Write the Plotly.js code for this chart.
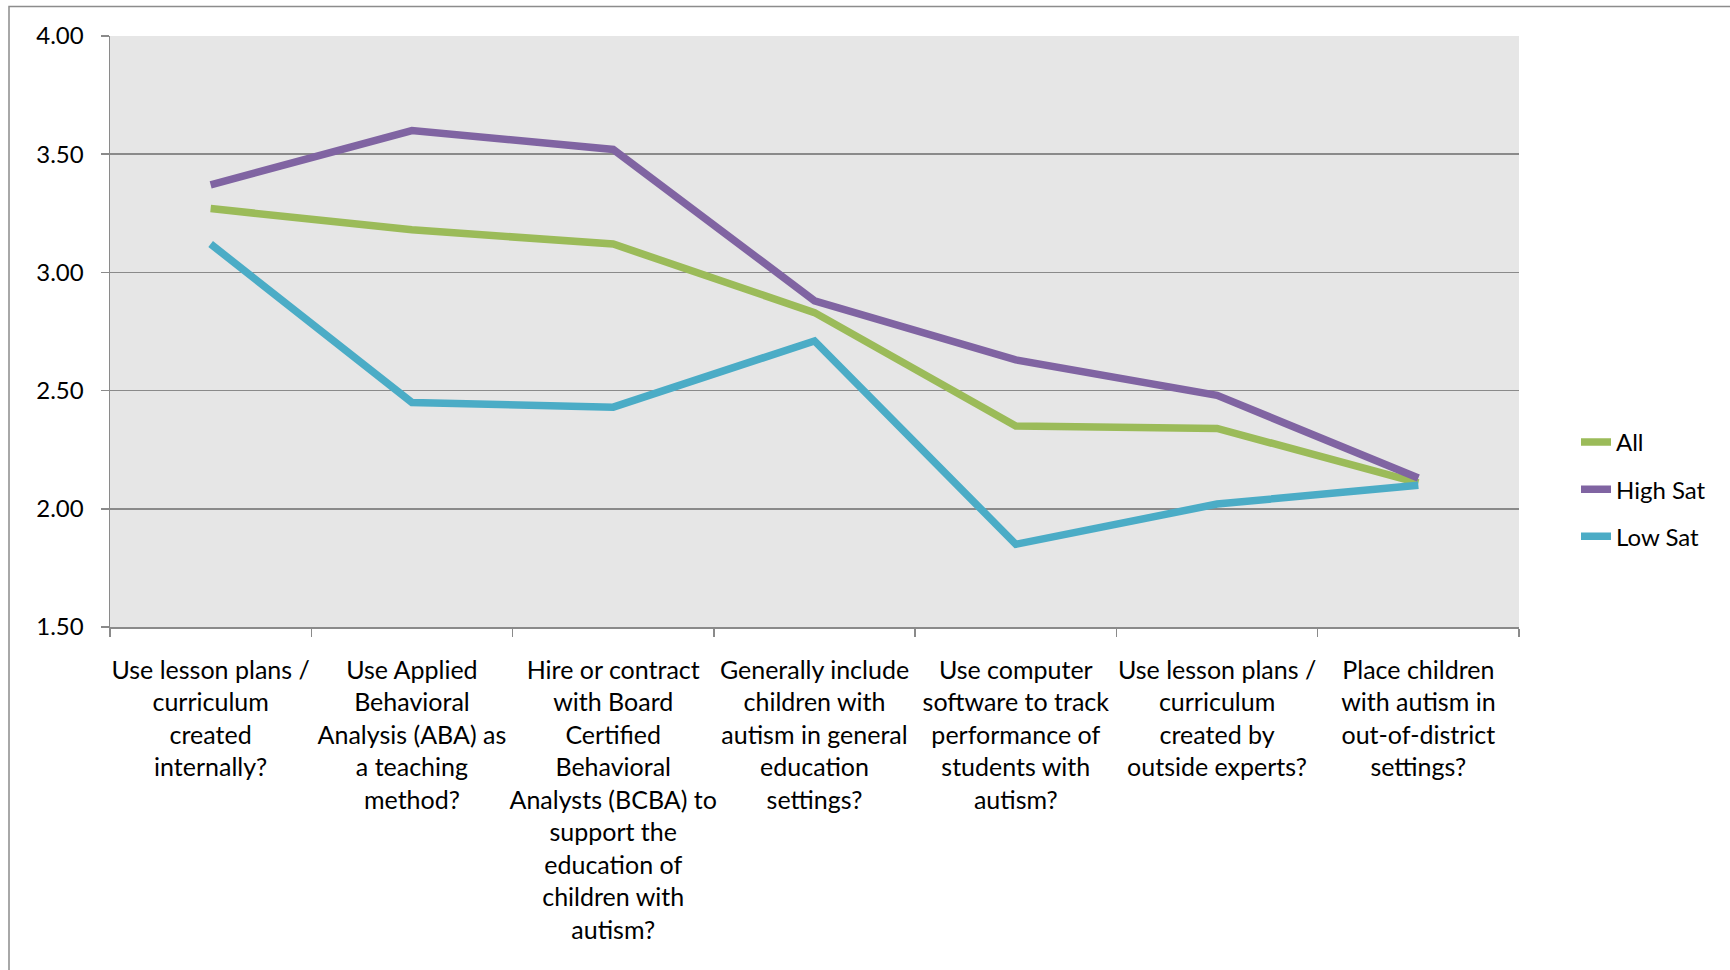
<!DOCTYPE html>
<html>
<head>
<meta charset="utf-8">
<script src="https://cdn.plot.ly/plotly-3.0.1.min.js"></script>
<style>
  html, body { margin: 0; padding: 0; background: #ffffff; }
  #chart { width: 1730px; height: 970px; }
</style>
</head>
<body>
<div id="chart"></div>
<script>
const categories = [
  "Use lesson plans /<br>curriculum<br>created<br>internally?",
  "Use Applied<br>Behavioral<br>Analysis (ABA) as<br>a teaching<br>method?",
  "Hire or contract<br>with Board<br>Certified<br>Behavioral<br>Analysts (BCBA) to<br>support the<br>education of<br>children with<br>autism?",
  "Generally include<br>children with<br>autism in general<br>education<br>settings?",
  "Use computer<br>software to track<br>performance of<br>students with<br>autism?",
  "Use lesson plans /<br>curriculum<br>created by<br>outside experts?",
  "Place children<br>with autism in<br>out-of-district<br>settings?"
];
const allValues     = [3.27, 3.18, 3.12, 2.83, 2.35, 2.34, 2.11];
const highSatValues = [3.37, 3.60, 3.52, 2.88, 2.63, 2.48, 2.13];
const lowSatValues  = [3.12, 2.45, 2.43, 2.71, 1.85, 2.02, 2.10];
const seriesNames = ["All", "High Sat", "Low Sat"];
const yTickValues = [1.5, 2.0, 2.5, 3.0, 3.5, 4.0];

const colors = ["#9BBB59", "#8064A2", "#4BACC6"];
const seriesValues = [allValues, highSatValues, lowSatValues];

const traces = seriesNames.map((name, i) => ({
  type: "scatter",
  mode: "lines",
  name: name,
  legendgroup: "g" + i,
  x: categories,
  y: seriesValues[i],
  line: { color: colors[i], width: 7.5 },
  hoverinfo: "skip"
}));

// plot area pixel geometry
const L = 110, R = 1519, T = 35.5, B = 626.7;
const W = R - L, H = B - T;
const px = (p) => (p - L) / W;
const py = (p) => (B - p) / H;

const font = "Lato, 'Open Sans', sans-serif";

const layout = {
  width: 1730,
  height: 970,
  margin: { l: L, r: 1730 - R, t: T, b: 970 - B, pad: 0 },
  paper_bgcolor: "#ffffff",
  plot_bgcolor: "#e6e6e6",
  font: { family: font, size: 24, color: "#000000" },
  showlegend: true,
  legend: {
    x: px(1576), xanchor: "left",
    y: py(489), yanchor: "middle",
    bgcolor: "rgba(0,0,0,0)",
    tracegroupgap: 13,
    font: { family: font, size: 24, color: "#000000" },
    itemwidth: 30
  },
  xaxis: {
    type: "category",
    range: [-0.5, 6.5],
    showline: true,
    linecolor: "#8a8a8a",
    linewidth: 1.5,
    ticks: "outside",
    tickson: "boundaries",
    ticklen: 8,
    tickcolor: "#8a8a8a",
    tickwidth: 1.5,
    showgrid: false,
    zeroline: false,
    tickangle: 0,
    tickfont: { family: font, size: 25, color: "#000000" },
    ticklabelstandoff: 20,
    fixedrange: true
  },
  yaxis: {
    range: [1.5, 4.0],
    tickvals: yTickValues,
    tickformat: ".2f",
    showline: true,
    linecolor: "#8a8a8a",
    linewidth: 1.5,
    ticks: "outside",
    ticklen: 8,
    tickcolor: "#8a8a8a",
    tickwidth: 1.5,
    showgrid: true,
    gridcolor: "#8a8a8a",
    gridwidth: 1.5,
    zeroline: false,
    tickfont: { family: font, size: 24, color: "#000000" },
    ticklabelstandoff: 12,
    fixedrange: true
  },
  shapes: [
    {
      type: "rect", xref: "paper", yref: "paper",
      x0: px(9), x1: px(1760), y0: py(1000), y1: py(6),
      line: { color: "#8c8c8c", width: 1.5 },
      fillcolor: "rgba(0,0,0,0)",
      layer: "below"
    }
  ]
};

Plotly.newPlot("chart", traces, layout, { displayModeBar: false, staticPlot: true });
</script>
</body>
</html>
